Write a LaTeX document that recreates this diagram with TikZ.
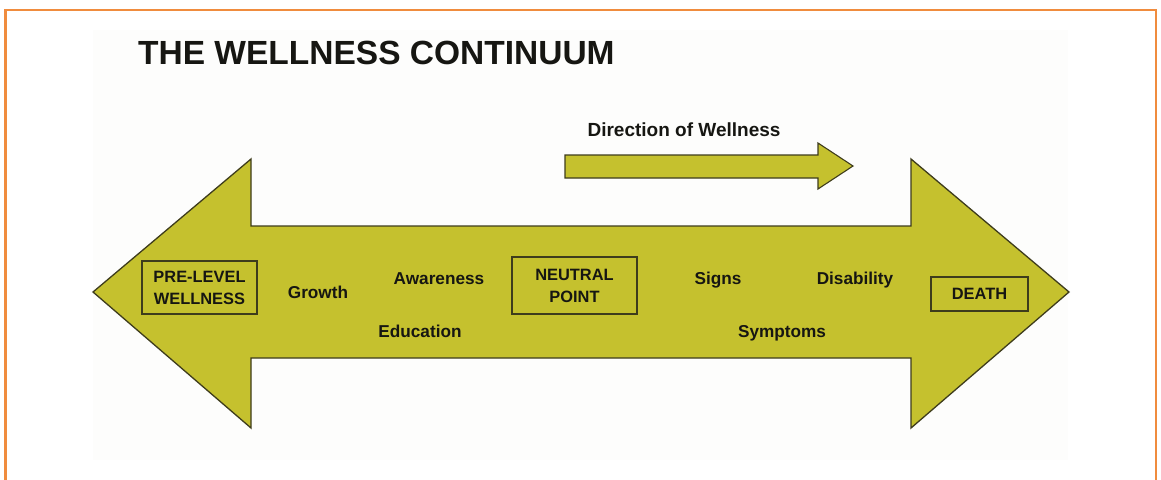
\documentclass[tikz,border=0pt]{standalone}
\usepackage{fontspec}
\setmainfont{Liberation Sans}
\definecolor{arrowfill}{RGB}{197,193,46}
\definecolor{arrowline}{RGB}{62,60,28}
\definecolor{frameorange}{RGB}{240,140,62}
\definecolor{paper}{RGB}{253,253,252}
\definecolor{ink}{RGB}{22,22,18}
\tikzset{
  bigarrow/.style={fill=arrowfill, draw=arrowline, line width=1.3pt, line join=miter},
  lbl/.style={inner sep=0pt, anchor=base, text=ink, font=\fontsize{17.2}{20}\selectfont\bfseries},
  stagebox/.style={draw=arrowline, line width=1.2pt, inner sep=0pt, align=center, text=ink,
     font=\fontsize{16.4}{22}\selectfont\bfseries},
}
\begin{document}
\begin{tikzpicture}[x=1pt,y=-1pt]
\useasboundingbox (0,0) rectangle (1161,479);
\fill[white] (0,0) rectangle (1161,479);
\fill[paper] (93,30) rectangle (1068,460);
\draw[frameorange, line width=2.2pt] (5.5,480) -- (5.5,10) -- (1156,10) -- (1156,480);

% title
\node[inner sep=0pt, anchor=west, text=ink, font=\fontsize{33.5}{40}\selectfont\bfseries] (title) at (138,53) {THE WELLNESS CONTINUUM};

% big double arrow
\draw[bigarrow] (93,292) -- (251,159) -- (251,226) -- (911,226) -- (911,159) -- (1069,292)
  -- (911,428) -- (911,358) -- (251,358) -- (251,428) -- cycle;

% direction arrow
\draw[bigarrow, line width=1.1pt] (565,155) -- (818,155) -- (818,143) -- (853,166) -- (818,189)
  -- (818,178) -- (565,178) -- cycle;
\node[lbl, font=\fontsize{19}{22}\selectfont\bfseries] (dir) at (684,136) {Direction of Wellness};

% boxes
\node[stagebox, minimum width=115pt, minimum height=53pt] (pre) at (199.5,287.5) {PRE-LEVEL\\WELLNESS};
\node[stagebox, minimum width=125pt, minimum height=57pt] (neutral) at (574.5,285.5) {NEUTRAL\\POINT};
\node[stagebox, minimum width=97pt, minimum height=34pt] (death) at (979.5,294) {DEATH};

% labels
\node[lbl] (growth) at (318,298) {Growth};
\node[lbl] (awareness) at (439,284) {Awareness};
\node[lbl] (education) at (420,337) {Education};
\node[lbl] (signs) at (718,284) {Signs};
\node[lbl] (disability) at (855,284) {Disability};
\node[lbl] (symptoms) at (782,337) {Symptoms};
\end{tikzpicture}
\end{document}
